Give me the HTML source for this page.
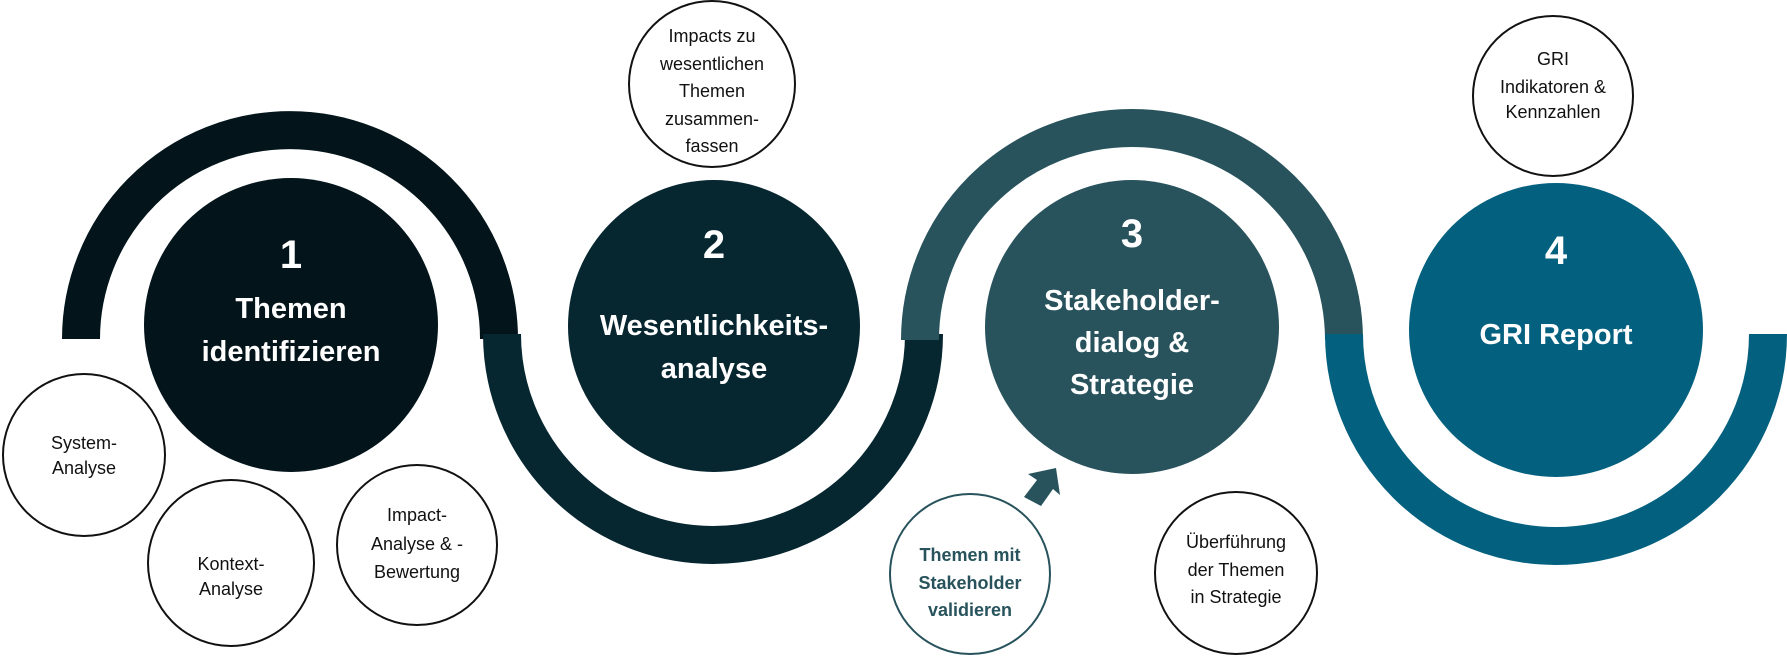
<!DOCTYPE html>
<html><head><meta charset="utf-8"><style>
html,body{margin:0;padding:0;background:#fff;}
svg{display:block;}
text{font-family:"Liberation Sans",sans-serif;text-anchor:middle;}
.w{fill:#fff;font-weight:bold;}
.s{fill:#111;font-size:18px;}
</style></head><body>
<svg width="1787" height="660" viewBox="0 0 1787 660" xmlns="http://www.w3.org/2000/svg">
<g fill="none" stroke-width="38">
<path d="M81 339 A209 209 0 0 1 499 339" stroke="#03141a"/>
<path d="M502 334 A211 211 0 0 0 924 334" stroke="#062630"/>
<path d="M920 340 A212 212 0 0 1 1344 340" stroke="#28535c"/>
<path d="M1344 334 A212 212 0 0 0 1768 334" stroke="#03607f"/>
</g>
<circle cx="291" cy="325" r="147" fill="#03141a"/>
<circle cx="714" cy="326" r="146" fill="#062630"/>
<circle cx="1132" cy="327" r="147" fill="#28535c"/>
<circle cx="1556" cy="330" r="147" fill="#03607f"/>
<g fill="#fff" stroke="#111" stroke-width="2">
<circle cx="84" cy="455" r="81"/>
<circle cx="231" cy="563" r="83"/>
<circle cx="417" cy="545" r="80"/>
<circle cx="712" cy="84" r="83"/>
<circle cx="1553" cy="96" r="80"/>
<circle cx="1236" cy="573" r="81"/>
<circle cx="970" cy="574" r="80" stroke="#28535c"/>
</g>
<polygon points="1056,468 1060,495 1053,489 1041,506 1024,497 1037,480 1028,474" fill="#28535c"/>
<text class="w" x="291" y="268" font-size="40">1</text>
<text class="w" x="291" y="318" font-size="29">Themen</text>
<text class="w" x="291" y="361" font-size="29">identifizieren</text>
<text class="w" x="714" y="258" font-size="40">2</text>
<text class="w" x="714" y="335" font-size="29">Wesentlichkeits-</text>
<text class="w" x="714" y="378" font-size="29">analyse</text>
<text class="w" x="1132" y="247" font-size="40">3</text>
<text class="w" x="1132" y="310" font-size="29">Stakeholder-</text>
<text class="w" x="1132" y="352" font-size="29">dialog &amp;</text>
<text class="w" x="1132" y="394" font-size="29">Strategie</text>
<text class="w" x="1556" y="264" font-size="40">4</text>
<text class="w" x="1556" y="344" font-size="29">GRI Report</text>
<g class="s">
<text class="s" x="712" y="42">Impacts zu</text>
<text class="s" x="712" y="70">wesentlichen</text>
<text class="s" x="712" y="97">Themen</text>
<text class="s" x="712" y="125">zusammen-</text>
<text class="s" x="712" y="152">fassen</text>
<text class="s" x="1553" y="65">GRI</text>
<text class="s" x="1553" y="93">Indikatoren &amp;</text>
<text class="s" x="1553" y="118">Kennzahlen</text>
<text class="s" x="84" y="449">System-</text>
<text class="s" x="84" y="474">Analyse</text>
<text class="s" x="231" y="570">Kontext-</text>
<text class="s" x="231" y="595">Analyse</text>
<text class="s" x="417" y="521">Impact-</text>
<text class="s" x="417" y="550">Analyse &amp; -</text>
<text class="s" x="417" y="578">Bewertung</text>
<text class="s" x="1236" y="548">Überführung</text>
<text class="s" x="1236" y="576">der Themen</text>
<text class="s" x="1236" y="603">in Strategie</text>
</g>
<g font-size="18" font-weight="bold" fill="#28535c">
<text x="970" y="561">Themen mit</text>
<text x="970" y="589">Stakeholder</text>
<text x="970" y="616">validieren</text>
</g>
</svg>
</body></html>
